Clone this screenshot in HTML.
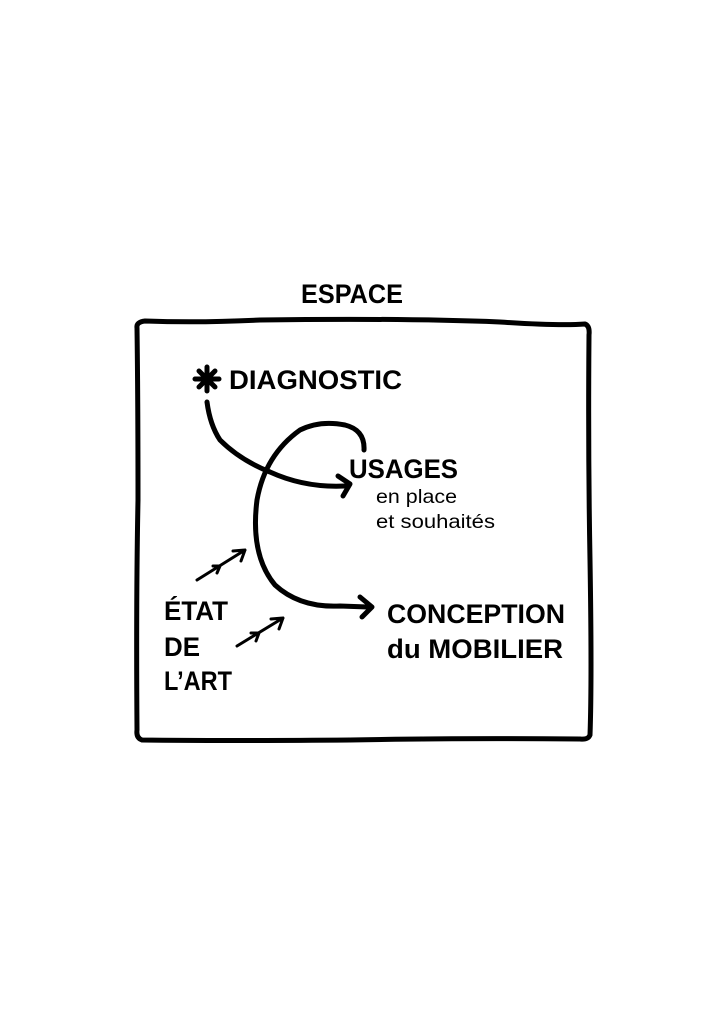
<!DOCTYPE html>
<html><head><meta charset="utf-8"><style>
html,body{margin:0;padding:0;background:#fff}
svg{display:block}
text{font-family:"Liberation Sans","DejaVu Sans",sans-serif;fill:#000}
.b{font-weight:bold}
</style></head><body>
<svg width="724" height="1024" viewBox="0 0 724 1024" xmlns="http://www.w3.org/2000/svg">
<g fill="none" stroke="#000" stroke-linecap="round" stroke-linejoin="round">
<path d="M137 328 Q136 322 145 321 Q200 323 260 320 Q400 318 500 322 Q560 326 585 324 Q590 326 589 335 Q588 450 590 560 Q592 680 590 735 Q588 740 580 739 Q450 738 350 740 Q220 741 142 740 Q136 738 137 730 Q136 600 138 500 Q138 400 137 328 Z" stroke-width="5"/>
<path d="M207 402 Q210 425 220 440 Q240 460 270 472 Q305 488 345 486" stroke-width="5"/>
<path d="M338 476 L350 484 L343 496" stroke-width="5"/>
<path d="M364 450 Q365 430 345 425 Q320 420 300 430 Q265 455 257 500 Q250 555 275 585 Q300 608 340 606 L368 607" stroke-width="5"/>
<path d="M360 597 L372 607 L362 617" stroke-width="5"/>
<g stroke-width="3">
<path d="M197 580 L245 550 M233 551 L245 550 L241 561 M220 566 L213 566 M220 566 L217 573 M220 566 L220 566"/>
<path d="M237 646 L283 618 M271 619 L283 618 L279 629 M259 633 L251 633 M259 633 L256 641"/>
</g>
</g>
<g fill="none" stroke="#000" stroke-width="5" stroke-linecap="round">
<path d="M207 367 L207 391 M195 379 L219 379 M199 371 L215 387 M199 387 L215 371"/>
</g>
<circle cx="207" cy="379" r="5" fill="#000"/>
<text class="b" x="301" y="303" font-size="27" textLength="102" lengthAdjust="spacingAndGlyphs">ESPACE</text>
<text class="b" x="229" y="389" font-size="27" textLength="173" lengthAdjust="spacingAndGlyphs">DIAGNOSTIC</text>
<text class="b" x="349" y="478" font-size="27" textLength="109" lengthAdjust="spacingAndGlyphs">USAGES</text>
<text x="376" y="503" font-size="19" textLength="81" lengthAdjust="spacingAndGlyphs">en place</text>
<text x="376" y="528" font-size="19" textLength="119" lengthAdjust="spacingAndGlyphs">et souhaités</text>
<text class="b" x="387" y="623" font-size="27" textLength="178" lengthAdjust="spacingAndGlyphs">CONCEPTION</text>
<text class="b" x="387" y="658" font-size="27" textLength="176" lengthAdjust="spacingAndGlyphs">du MOBILIER</text>
<text class="b" x="164" y="620" font-size="27" textLength="64" lengthAdjust="spacingAndGlyphs">ÉTAT</text>
<text class="b" x="164" y="656" font-size="27" textLength="36" lengthAdjust="spacingAndGlyphs">DE</text>
<text class="b" x="164" y="690" font-size="27" textLength="68" lengthAdjust="spacingAndGlyphs">L’ART</text>
</svg>
</body></html>
